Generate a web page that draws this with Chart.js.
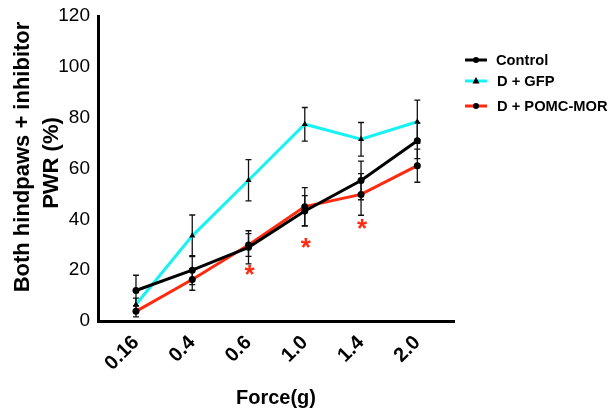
<!DOCTYPE html>
<html><head><meta charset="utf-8">
<script src="https://cdn.jsdelivr.net/npm/chart.js@4"></script>
<style>html,body{margin:0;padding:0;background:#fff}#wrap{width:609px;height:410px}</style>
</head><body><div id="wrap"><canvas id="c" width="609" height="410"></canvas></div>
<script>
const categories = ['0.16','0.4','0.6','1.0','1.4','2.0'];
const controlVals = [12, 20, 29, 43.3, 55.3, 70.9];
const controlErr  = [6, 5.7, 6.5, 6, 7.6, 7];
const gfpVals     = [6.5, 33.5, 55.4, 77.4, 71.5, 78.4];
const gfpErr      = [2.5, 8.2, 8.1, 6.6, 6.6, 8.5];
const pomcVals    = [3.8, 16.3, 29.9, 45, 49.8, 61.1];
const pomcErr     = [2.2, 4.2, 4.5, 7.5, 8.2, 6.5];
const starIdx     = [2, 3, 4];
const starVals    = [20.1, 30.6, 38];
const yTicks      = [0, 20, 40, 60, 80, 100, 120];

const FONT = '"Liberation Sans", Arial, Helvetica, sans-serif';
const CYAN = '#17F2F2', RED = '#FF2A10', BLACK = '#000';

function pts(vals){ return vals.map((v,i)=>({x:i,y:v})); }

const datasets = [
  {label:'Control', data:pts(controlVals), err:controlErr, borderColor:BLACK, backgroundColor:BLACK, pointStyle:'circle', pointRadius:3.5},
  {label:'D + GFP', data:pts(gfpVals), err:gfpErr, borderColor:CYAN, backgroundColor:BLACK, pointStyle:'triangle', pointRadius:3.5},
  {label:'D + POMC-MOR', data:pts(pomcVals), err:pomcErr, borderColor:RED, backgroundColor:BLACK, pointStyle:'circle', pointRadius:3.5}
].map(d=>Object.assign({borderWidth:3, pointBorderWidth:0, pointBorderColor:BLACK, tension:0, fill:false}, d));

const errorBars = {
  id:'errorBars',
  beforeDatasetsDraw(chart){
    const {ctx, scales:{x,y}} = chart;
    ctx.save();
    ctx.strokeStyle = '#111'; ctx.lineWidth = 1.3;
    chart.data.datasets.forEach(ds=>{
      ds.data.forEach((p,i)=>{
        const px = x.getPixelForValue(p.x);
        const t = y.getPixelForValue(p.y + ds.err[i]);
        const b = y.getPixelForValue(p.y - ds.err[i]);
        ctx.beginPath();
        ctx.moveTo(px,t); ctx.lineTo(px,b);
        ctx.moveTo(px-3,t); ctx.lineTo(px+3,t);
        ctx.moveTo(px-3,b); ctx.lineTo(px+3,b);
        ctx.stroke();
      });
    });
    ctx.restore();
  }
};

const extras = {
  id:'extras',
  afterDraw(chart){
    const {ctx, scales:{x,y}, chartArea} = chart;
    ctx.save();
    // stars
    ctx.fillStyle = RED;
    ctx.font = 'bold 26px ' + FONT;
    ctx.textAlign = 'center'; ctx.textBaseline = 'alphabetic';
    starIdx.forEach((ix,k)=>{
      const px = x.getPixelForValue(ix), py = y.getPixelForValue(starVals[k]);
      ctx.fillText('*', px + 1, py + 0.55*26 - 1.5);
    });
    // axis titles
    ctx.fillStyle = BLACK;
    ctx.font = 'bold 20px ' + FONT;
    ctx.textAlign = 'center'; ctx.textBaseline = 'middle';
    ctx.fillText('Force(g)', (chartArea.left+chartArea.right)/2, 398);
    ctx.font = 'bold 22px ' + FONT;
    ctx.save();
    ctx.translate(23, 157); ctx.rotate(-Math.PI/2);
    ctx.fillText('Both hindpaws + inhibitor', 0, 0);
    ctx.restore();
    ctx.save();
    ctx.translate(52, 163); ctx.rotate(-Math.PI/2);
    ctx.fillText('PWR (%)', 0, 0);
    ctx.restore();
    // legend
    const items = chart.data.datasets;
    const ys = [60, 81, 106];
    ctx.font = 'bold 14.7px ' + FONT;
    ctx.textAlign = 'left'; ctx.textBaseline = 'middle';
    items.forEach((ds,k)=>{
      const yy = ys[k];
      ctx.strokeStyle = ds.borderColor; ctx.lineWidth = 3;
      ctx.beginPath(); ctx.moveTo(465,yy); ctx.lineTo(487,yy); ctx.stroke();
      ctx.fillStyle = BLACK;
      ctx.beginPath();
      if (ds.pointStyle === 'triangle') {
        ctx.moveTo(476, yy-4); ctx.lineTo(479.5, yy+2.5); ctx.lineTo(472.5, yy+2.5); ctx.closePath();
      } else {
        ctx.arc(476, yy, 3, 0, Math.PI*2);
      }
      ctx.fill();
      ctx.fillText(ds.label, k === 0 ? 496 : 497, yy+1);
    });
    ctx.restore();
  }
};

new Chart(document.getElementById('c'), {
  type:'line',
  data:{datasets},
  options:{
    responsive:false, animation:false, devicePixelRatio:1,
    layout:{padding:{left:0, right:155, top:16, bottom:0}},
    plugins:{legend:{display:false}, tooltip:{enabled:false}},
    scales:{
      x:{
        type:'linear', min:-0.675, max:5.652,
        afterBuildTicks(s){ s.ticks = categories.map((_,i)=>({value:i})); },
        afterFit(s){ s.height = 89; },
        grid:{display:false, drawOnChartArea:false, drawTicks:true, tickLength:6, tickWidth:2.5, tickColor:BLACK},
        border:{display:true, color:BLACK, width:3},
        ticks:{autoSkip:false, minRotation:45, maxRotation:45, padding:4, color:BLACK,
          font:{family:FONT, size:20, weight:'bold'},
          callback:(v)=>categories[v] }
      },
      y:{
        min:0, max:120,
        afterBuildTicks(s){ s.ticks = yTicks.map(v=>({value:v})); },
        afterFit(s){ s.width = 98; },
        grid:{display:false, drawOnChartArea:false, drawTicks:true, tickLength:6, tickWidth:2.5, tickColor:BLACK},
        border:{display:true, color:BLACK, width:3},
        ticks:{padding:2, color:BLACK, font:{family:FONT, size:19, weight:'normal'}}
      }
    }
  },
  plugins:[errorBars, extras]
});
</script></body></html>
